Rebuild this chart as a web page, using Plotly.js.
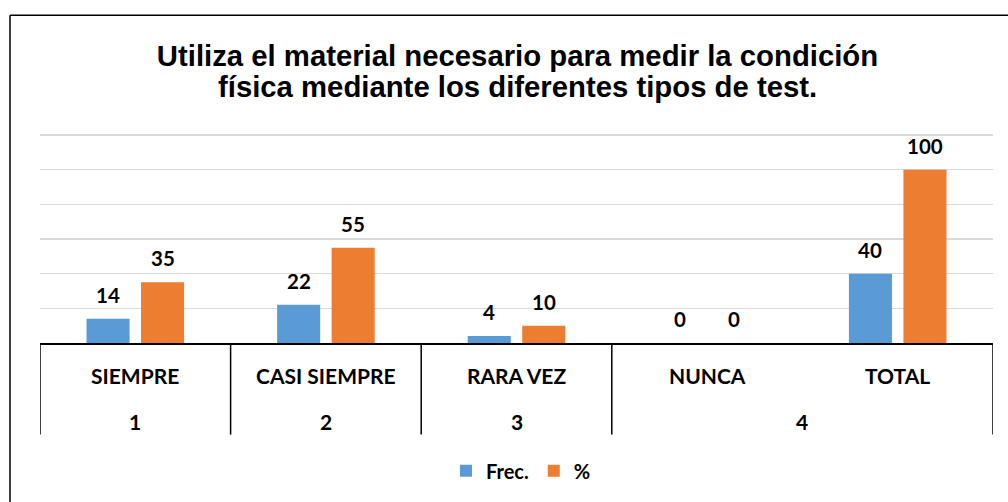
<!DOCTYPE html>
<html><head><meta charset="utf-8">
<script src="https://cdn.plot.ly/plotly-3.0.1.min.js"></script>
<style>html,body{margin:0;padding:0;background:#fff;overflow:hidden}#chart{width:1008px;height:502px}</style>
</head><body><div id="chart"></div>
<script>
const categories = ["SIEMPRE", "CASI SIEMPRE", "RARA VEZ", "NUNCA", "TOTAL"];
const groupLabels = ["1", "2", "3", "4"];
const groupSpans = [[0, 0], [1, 1], [2, 2], [3, 4]];
const frec = [14, 22, 4, 0, 40];
const pct = [35, 55, 10, 0, 100];
const seriesNames = ["Frec.", "%"];
const titleLines = ["Utiliza el material necesario para medir la condición", "física mediante los diferentes tipos de test."];

const W = 1008, H = 502, mL = 40, mR = 15, mT = 134, mB = 157;
const plotW = W - mL - mR, plotH = H - mT - mB;
const bargap = 0.428;
const catPx = plotW / categories.length;
const halfSlot = catPx * (1 - bargap) / 4;
const labelFont = {family: "Lato, 'Open Sans', sans-serif", size: 20.5, color: "#000", weight: "bold"};
const catFont = {family: "Lato, 'Open Sans', sans-serif", size: 21, color: "#000", weight: "bold"};
const titleFont = {family: "'Liberation Sans', Arial, sans-serif", size: 29.3, color: "#000", weight: "bold"};
const pxToPaperY = py => (H - mB - py) / plotH;
const pxToPaperX = px => (px - mL) / plotW;

const traces = [
  {type: "bar", name: seriesNames[0], x: categories, y: frec, marker: {color: "#5B9BD5"}, hoverinfo: "skip"},
  {type: "bar", name: seriesNames[1], x: categories, y: pct, marker: {color: "#ED7D31"}, hoverinfo: "skip"}
];

const annotations = [];
[frec, pct].forEach((vals, s) => {
  vals.forEach((v, i) => {
    annotations.push({x: i, y: v, xref: "x", yref: "y", text: String(v), showarrow: false,
      xshift: (s === 0 ? -1 : 1) * halfSlot, yshift: 24, yanchor: "middle", font: labelFont});
  });
});
categories.forEach((c, i) => {
  annotations.push({x: i, y: 0, xref: "x", yref: "paper", text: c, showarrow: false,
    yshift: -32, yanchor: "middle", font: catFont});
});
groupLabels.forEach((g, k) => {
  annotations.push({x: (groupSpans[k][0] + groupSpans[k][1]) / 2, y: 0, xref: "x", yref: "paper", text: g, showarrow: false,
    yshift: -78, yanchor: "middle", font: catFont});
});
annotations.push({x: pxToPaperX(517.5), y: pxToPaperY(86), xref: "paper", yref: "paper", text: titleLines[1], showarrow: false,
  yanchor: "middle", font: titleFont});

const shapes = [];
const bounds = [groupSpans[0][0] - 0.5].concat(groupSpans.map(s => s[1] + 0.5));
bounds.forEach(b => {
  shapes.push({type: "line", xref: "x", yref: "paper", x0: b, x1: b, y0: 0, y1: pxToPaperY(437.5), line: {color: "#000", width: 1.5}});
});
// outer frame (left and top edges)
shapes.push({type: "line", xref: "paper", yref: "paper", x0: pxToPaperX(10), x1: pxToPaperX(10), y0: pxToPaperY(14), y1: pxToPaperY(H + 5), line: {color: "#000", width: 1.5}});
shapes.push({type: "line", xref: "paper", yref: "paper", x0: pxToPaperX(10), x1: pxToPaperX(W + 5), y0: pxToPaperY(14), y1: pxToPaperY(14), line: {color: "#000", width: 1.5}});

const layout = {
  width: W, height: H,
  margin: {l: mL, r: mR, t: mT, b: mB},
  paper_bgcolor: "#fff", plot_bgcolor: "#fff",
  title: {text: titleLines[0], xref: "container", x: 517.5 / W, yref: "container", y: 1 - 56 / H, yanchor: "middle",
    font: titleFont},
  barmode: "group", bargap: bargap, bargroupgap: 0.21,
  xaxis: {type: "category", range: [-0.5, categories.length - 0.5], showticklabels: false, ticks: "",
    showline: true, linecolor: "#000", linewidth: 1.5, showgrid: false, zeroline: false, fixedrange: true},
  yaxis: {range: [0, 120.6], dtick: 20, showticklabels: false, ticks: "", showline: false,
    showgrid: true, gridcolor: "#d9d9d9", gridwidth: 1.2, zeroline: false, fixedrange: true},
  showlegend: true,
  legend: {orientation: "h", x: pxToPaperX(521), xanchor: "center", y: pxToPaperY(474), yanchor: "middle",
    font: {family: "Lato, 'Open Sans', sans-serif", size: 20, color: "#000", weight: "bold"}, itemwidth: 30},
  annotations: annotations,
  shapes: shapes,
  hovermode: false
};

Plotly.newPlot("chart", traces, layout, {displayModeBar: false, staticPlot: true});
</script>
</body></html>
